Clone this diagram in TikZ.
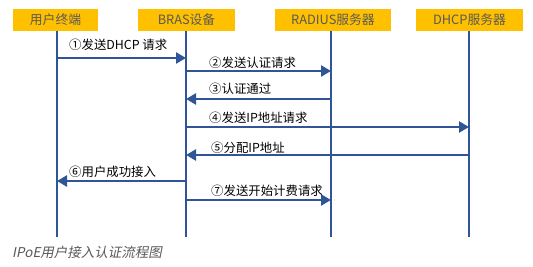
\documentclass[tikz,border=0pt]{standalone}
\usepackage{fontspec}
\setmainfont{Noto Sans CJK SC}
\newfontfamily\capfont[FakeSlant=0.2]{Noto Sans CJK SC}
\usetikzlibrary{arrows.meta}
\definecolor{boxfill}{HTML}{FFC000}
\definecolor{lineblue}{HTML}{2F5597}
\definecolor{boxtext}{HTML}{595959}
\tikzset{
  actor/.style={fill=boxfill, text=boxtext, minimum height=22pt, inner sep=0pt, font=\fontsize{12.8}{14}\selectfont},
  lifeline/.style={draw=lineblue, line width=2.5pt},
  msg/.style={draw=lineblue, line width=2.5pt, -{Triangle[length=10pt,width=11pt]}},
  lbl/.style={anchor=west, inner sep=0pt, font=\fontsize{12.4}{14}\selectfont},
}
\begin{document}
\begin{tikzpicture}[x=1pt,y=-1pt]
\useasboundingbox (0,0) rectangle (533,267);
\fill[white] (0,0) rectangle (533,267);
% actors
\node[actor, minimum width=85pt] (user) at (55.5,20) {用户终端};
\node[actor, minimum width=97pt] (bras) at (186.5,20) {BRAS设备};
\node[actor, minimum width=116pt] (radius) at (333,20) {RADIUS服务器};
\node[actor, minimum width=107pt] (dhcp) at (469.5,20) {DHCP服务器};
% lifeline ends
\coordinate (ue) at (57,237);
\coordinate (be) at (186,237);
\coordinate (re) at (331,237);
\coordinate (de) at (469,237);
\draw[lifeline] (ue |- user.south) -- (ue);
\draw[lifeline] (be |- bras.south) -- (be);
\draw[lifeline] (re |- radius.south) -- (re);
\draw[lifeline] (de |- dhcp.south) -- (de);
% message ends
\coordinate (u1) at (57,58);  \coordinate (b1) at (186,58);
\coordinate (b2) at (186,71); \coordinate (r2) at (331,71);
\coordinate (r3) at (331,99); \coordinate (b3) at (186,99);
\coordinate (b4) at (186,127); \coordinate (d4) at (469,127);
\coordinate (d5) at (469,155); \coordinate (b5) at (186,155);
\coordinate (b6) at (186,181); \coordinate (u6) at (57,181);
\coordinate (b7) at (186,200); \coordinate (r7) at (331,200);
\draw[msg] (u1) -- (b1);
\draw[msg] (b2) -- (r2);
\draw[msg] (r3) -- (b3);
\draw[msg] (b4) -- (d4);
\draw[msg] (d5) -- (b5);
\draw[msg] (b6) -- (u6);
\draw[msg] (b7) -- (r7);
% labels
\node[lbl] (t1) at (69,45) {①发送DHCP 请求};
\node[lbl] (t2) at (209,63) {②发送认证请求};
\node[lbl] (t3) at (209,89) {③认证通过};
\node[lbl] (t4) at (209,118) {④发送IP地址请求};
\node[lbl] (t5) at (211,148) {⑤分配IP地址};
\node[lbl] (t6) at (69,172) {⑥用户成功接入};
\node[lbl] (t7) at (211,191) {⑦发送开始计费请求};
% caption
\node[anchor=west, inner sep=0pt, text=boxtext, font=\capfont\fontsize{13.5}{15}\selectfont] (cap) at (12,252) {IPoE用户接入认证流程图};
\end{tikzpicture}
\end{document}
